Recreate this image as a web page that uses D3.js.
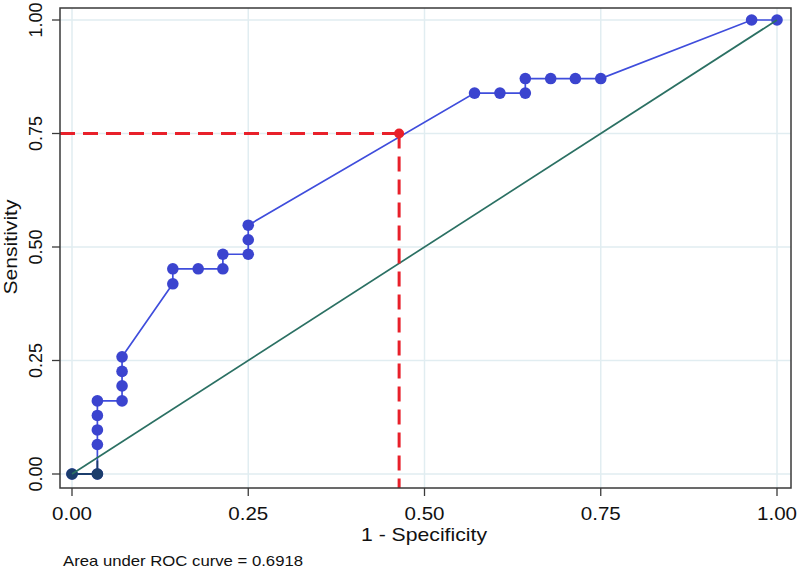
<!DOCTYPE html>
<html>
<head>
<meta charset="utf-8">
<script src="https://cdn.jsdelivr.net/npm/d3@7"></script>
<style>
  body { margin: 0; background: #fff; }
  text { font-family: "Liberation Sans", Arial, sans-serif; fill: #111; }
</style>
</head>
<body>
<script>
// ROC points (1 - specificity, sensitivity)
const fpr = [0, 0.036, 0.036, 0.036, 0.036, 0.036, 0.071, 0.071, 0.071, 0.071,
             0.143, 0.143, 0.179, 0.214, 0.214, 0.25, 0.25, 0.25,
             0.571, 0.607, 0.643, 0.643, 0.679, 0.714, 0.75, 0.964, 1];
const tpr = [0, 0, 0.065, 0.097, 0.129, 0.161, 0.161, 0.194, 0.226, 0.258,
             0.419, 0.452, 0.452, 0.452, 0.484, 0.484, 0.516, 0.548,
             0.839, 0.839, 0.839, 0.871, 0.871, 0.871, 0.871, 1, 1];
// dark tied points at sensitivity 0
const darkFpr = [0, 0.036, 0.036];
const darkTpr = [0, 0, 0.03];
// chosen cut point
const cutFpr = 0.464;
const cutTpr = 0.75;
const ticks = [0, 0.25, 0.5, 0.75, 1];
const tickLabels = ['0.00', '0.25', '0.50', '0.75', '1.00'];
const aucText = 'Area under ROC curve = 0.6918';

const width = 800, height = 568;
const frame = {left: 60, right: 791, top: 8, bottom: 488};

const svg = d3.select('body').append('svg')
              .attr('width', width)
              .attr('height', height);

const x = d3.scaleLinear().domain([0, 1]).range([72, 777]);
const y = d3.scaleLinear().domain([0, 1]).range([474, 20]);

// grid
svg.selectAll('.vgrid').data(ticks).enter().append('line')
   .attr('x1', d => x(d)).attr('x2', d => x(d))
   .attr('y1', frame.top).attr('y2', frame.bottom)
   .attr('stroke', '#e1edf1').attr('stroke-width', 1.5);
svg.selectAll('.hgrid').data(ticks).enter().append('line')
   .attr('y1', d => y(d)).attr('y2', d => y(d))
   .attr('x1', frame.left).attr('x2', frame.right)
   .attr('stroke', '#e1edf1').attr('stroke-width', 1.5);

const pts = fpr.map((f, i) => [f, tpr[i]]);
const darkPts = darkFpr.map((f, i) => [f, darkTpr[i]]);
const line = d3.line().x(d => x(d[0])).y(d => y(d[1]));

// ROC curve
svg.append('path').datum(pts)
   .attr('d', line).attr('fill', 'none')
   .attr('stroke', '#3f4ddc').attr('stroke-width', 1.7);
svg.selectAll('.dot').data(pts).enter().append('circle')
   .attr('cx', d => x(d[0])).attr('cy', d => y(d[1]))
   .attr('r', 5.8).attr('fill', '#3b44cf');
svg.append('path').datum(darkPts)
   .attr('d', line).attr('fill', 'none')
   .attr('stroke', '#1b3d6c').attr('stroke-width', 1.8);
svg.selectAll('.dark').data(darkPts.slice(0, 2)).enter().append('circle')
   .attr('cx', d => x(d[0])).attr('cy', d => y(d[1]))
   .attr('r', 5.8).attr('fill', '#1b3d6c');

// reference line
svg.append('line')
   .attr('x1', x(0)).attr('y1', y(0)).attr('x2', x(1)).attr('y2', y(1))
   .attr('stroke', '#2b7063').attr('stroke-width', 1.7);

// cut point guides
svg.append('line')
   .attr('x1', frame.left).attr('x2', x(cutFpr))
   .attr('y1', y(cutTpr)).attr('y2', y(cutTpr))
   .attr('stroke', '#e8202a').attr('stroke-width', 3)
   .attr('stroke-dasharray', '15,8');
svg.append('line')
   .attr('x1', x(cutFpr)).attr('x2', x(cutFpr))
   .attr('y1', y(cutTpr)).attr('y2', frame.bottom)
   .attr('stroke', '#e8202a').attr('stroke-width', 3)
   .attr('stroke-dasharray', '15,8');
svg.append('circle')
   .attr('cx', x(cutFpr)).attr('cy', y(cutTpr))
   .attr('r', 5).attr('fill', '#e8202a');

// frame
svg.append('rect')
   .attr('x', frame.left).attr('y', frame.top)
   .attr('width', frame.right - frame.left)
   .attr('height', frame.bottom - frame.top)
   .attr('fill', 'none').attr('stroke', '#3a3a3a').attr('stroke-width', 1.5);

// axes ticks
svg.selectAll('.xt').data(ticks).enter().append('line')
   .attr('x1', d => x(d)).attr('x2', d => x(d))
   .attr('y1', frame.bottom).attr('y2', frame.bottom + 8)
   .attr('stroke', '#3a3a3a').attr('stroke-width', 1.3);
svg.selectAll('.yt').data(ticks).enter().append('line')
   .attr('y1', d => y(d)).attr('y2', d => y(d))
   .attr('x1', frame.left).attr('x2', frame.left - 8)
   .attr('stroke', '#3a3a3a').attr('stroke-width', 1.3);

svg.selectAll('.xl').data(ticks).enter().append('text')
   .attr('x', d => x(d)).attr('y', 520)
   .attr('text-anchor', 'middle').attr('font-size', 18)
   .attr('textLength', 40).attr('lengthAdjust', 'spacingAndGlyphs')
   .text((d, i) => tickLabels[i]);
svg.selectAll('.yl').data(ticks).enter().append('text')
   .attr('transform', d => `translate(42, ${y(d)}) rotate(-90)`)
   .attr('text-anchor', 'middle').attr('font-size', 18)
   .attr('textLength', 35).attr('lengthAdjust', 'spacingAndGlyphs')
   .text((d, i) => tickLabels[i]);

svg.append('text')
   .attr('x', 424).attr('y', 541)
   .attr('text-anchor', 'middle').attr('font-size', 19)
   .attr('textLength', 126).attr('lengthAdjust', 'spacingAndGlyphs')
   .text('1 - Specificity');
svg.append('text')
   .attr('transform', `translate(17, ${y(0.5)}) rotate(-90)`)
   .attr('text-anchor', 'middle').attr('font-size', 19)
   .attr('textLength', 95).attr('lengthAdjust', 'spacingAndGlyphs')
   .text('Sensitivity');

svg.append('text')
   .attr('x', 63).attr('y', 566)
   .attr('font-size', 14.5)
   .attr('textLength', 240).attr('lengthAdjust', 'spacingAndGlyphs')
   .text(aucText);
</script>
</body>
</html>
